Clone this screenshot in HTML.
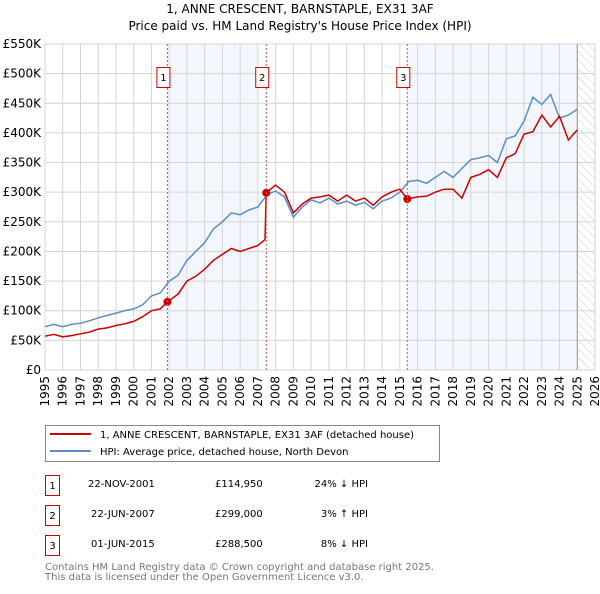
<!DOCTYPE html>
<html><head><meta charset="utf-8"><style>
body{margin:0;background:#fff;font-family:"DejaVu Sans","Liberation Sans",sans-serif;}
svg text{font-family:"DejaVu Sans","Liberation Sans",sans-serif;}
</style></head><body>
<svg id="chart" width="600" height="590" viewBox="0 0 600 590" xmlns="http://www.w3.org/2000/svg">
<defs><pattern id="hatch" width="6" height="6" patternUnits="userSpaceOnUse" patternTransform="rotate(-45)"><line x1="0" y1="0" x2="0" y2="6" stroke="#ccc" stroke-width="1"/></pattern></defs>
<text x="300" y="13" text-anchor="middle" font-size="12">1, ANNE CRESCENT, BARNSTAPLE, EX31 3AF</text>
<text x="300" y="30" text-anchor="middle" font-size="12">Price paid vs. HM Land Registry's House Price Index (HPI)</text>
<g id="bands"></g><g id="grid"></g><g id="axes"></g><g id="series"></g><g id="markers"></g>
<g>
<rect x="45.5" y="425.5" width="394" height="36" fill="#fff" stroke="#888"/>
<line x1="50" y1="434" x2="91" y2="434" stroke="#cc0000" stroke-width="2"/>
<text x="100" y="438" font-size="10">1, ANNE CRESCENT, BARNSTAPLE, EX31 3AF (detached house)</text>
<line x1="50" y1="451" x2="91" y2="451" stroke="#5b8ccc" stroke-width="2"/>
<text x="100" y="455" font-size="10">HPI: Average price, detached house, North Devon</text>
</g>
<g font-size="10">
<rect x="45.5" y="475.5" width="14" height="20" fill="#fff" stroke="#c00"/><text x="52.5" y="489" text-anchor="middle">1</text>
<text x="88" y="487">22-NOV-2001</text><text x="215" y="487">£114,950</text><text x="368" y="487" text-anchor="end">24% ↓ HPI</text>
<rect x="45.5" y="505.5" width="14" height="20" fill="#fff" stroke="#c00"/><text x="52.5" y="519" text-anchor="middle">2</text>
<text x="91" y="517">22-JUN-2007</text><text x="215" y="517">£299,000</text><text x="368" y="517" text-anchor="end">3% ↑ HPI</text>
<rect x="45.5" y="535.5" width="14" height="20" fill="#fff" stroke="#c00"/><text x="52.5" y="549" text-anchor="middle">3</text>
<text x="91" y="547">01-JUN-2015</text><text x="215" y="547">£288,500</text><text x="368" y="547" text-anchor="end">8% ↓ HPI</text>
</g>
<text x="45" y="570" font-size="10" fill="#777">Contains HM Land Registry data © Crown copyright and database right 2025.</text>
<text x="45" y="580" font-size="10" fill="#777">This data is licensed under the Open Government Licence v3.0.</text>
</svg>
<script>
const yTicks=[0,50,100,150,200,250,300,350,400,450,500,550];
const yTickLabels=["£0","£50K","£100K","£150K","£200K","£250K","£300K","£350K","£400K","£450K","£500K","£550K"];
const xTickYears=[1995,1996,1997,1998,1999,2000,2001,2002,2003,2004,2005,2006,2007,2008,2009,2010,2011,2012,2013,2014,2015,2016,2017,2018,2019,2020,2021,2022,2023,2024,2025,2026];
const hpiYears=[1995,1995.5,1996,1996.5,1997,1997.5,1998,1998.5,1999,1999.5,2000,2000.5,2001,2001.5,2002,2002.5,2003,2003.5,2004,2004.5,2005,2005.5,2006,2006.5,2007,2007.5,2008,2008.5,2009,2009.5,2010,2010.5,2011,2011.5,2012,2012.5,2013,2013.5,2014,2014.5,2015,2015.5,2016,2016.5,2017,2017.5,2018,2018.5,2019,2019.5,2020,2020.5,2021,2021.5,2022,2022.5,2023,2023.5,2024,2024.5,2025];
const hpiValues=[73,77,73,77,79,83,88,92,96,100,103,110,125,130,150,160,185,200,215,238,250,265,262,270,275,295,302,292,258,275,287,282,290,280,285,278,283,272,285,290,300,318,320,315,325,335,325,340,355,358,362,350,390,395,420,460,448,465,425,430,440];
const priceYears=[1995,1995.5,1996,1996.5,1997,1997.5,1998,1998.5,1999,1999.5,2000,2000.5,2001,2001.5,2001.9,2002.5,2003,2003.5,2004,2004.5,2005,2005.5,2006,2006.5,2007,2007.4,2007.47,2008,2008.5,2009,2009.5,2010,2010.5,2011,2011.5,2012,2012.5,2013,2013.5,2014,2014.5,2015,2015.42,2016,2016.5,2017,2017.5,2018,2018.5,2019,2019.5,2020,2020.5,2021,2021.5,2022,2022.5,2023,2023.5,2024,2024.5,2025];
const priceValues=[57,60,56,58,61,64,69,71,75,78,82,90,100,103,115,128,150,158,170,185,195,205,200,205,210,220,299,312,300,265,280,290,292,295,285,295,285,290,278,292,300,305,288.5,292,293,300,305,305,290,325,330,338,325,358,365,398,402,430,410,428,388,405];
const saleYears=[2001.9,2007.47,2015.42];
const saleValues=[114.95,299,288.5];
const saleLabels=["1","2","3"];

const NS="http://www.w3.org/2000/svg";
const X0=45,X1=595,Y0=370,Y1=44;
const xs=y=>X0+(y-1995)/(2026-1995)*(X1-X0);
const ys=v=>Y0-v/550*(Y0-Y1);
function mk(tag,attrs,parent){const e=document.createElementNS(NS,tag);for(const k in attrs)e.setAttribute(k,attrs[k]);document.getElementById(parent).appendChild(e);return e;}

let b=mk('rect',{x:xs(2001.95),y:Y1,width:xs(2007.0)-xs(2001.95),height:Y0-Y1,fill:'#eef3fc',opacity:0.7},'bands');


b=mk('rect',{x:xs(2015.42),y:Y1,width:xs(2025)-xs(2015.42),height:Y0-Y1,fill:'#eef3fc',opacity:0.7},'bands');


b=mk('rect',{x:xs(2025),y:Y1,width:X1-xs(2025),height:Y0-Y1,fill:'url(#hatch)'},'bands');



yTicks.forEach((v,i)=>{
 const l=mk('line',{x1:X0,x2:X1,y1:ys(v),y2:ys(v),stroke:'#d4d4d4','stroke-width':1},'grid');
 
 
 const t=mk('text',{x:X0-4,y:ys(v)+4,'text-anchor':'end','font-size':12},'axes');
 t.textContent=yTickLabels[i];
 
 
});
xTickYears.forEach(yr=>{
 const l=mk('line',{x1:xs(yr),x2:xs(yr),y1:Y1,y2:Y0,stroke:'#d4d4d4','stroke-width':1},'grid');
 
 
 const t=mk('text',{x:0,y:0,'text-anchor':'end','font-size':12,transform:`translate(${xs(yr)+4},${Y0+6}) rotate(-90)`},'axes');
 t.textContent=String(yr);
 
 
});
let ln=mk('line',{x1:xs(2025),x2:xs(2025),y1:Y1,y2:Y0,stroke:'#999','stroke-width':1},'grid');



saleYears.forEach((yr,i)=>{
 const l=mk('line',{x1:xs(yr),x2:xs(yr),y1:Y1,y2:Y0,stroke:'#e05050','stroke-width':1,'stroke-dasharray':'2,2'},'markers');
 
 
 const r=mk('rect',{x:xs(yr)-10.5,y:67.5,width:13,height:20,fill:'#fff',stroke:'#c00'},'markers');
 
 
 const t=mk('text',{x:xs(yr)-4,y:81,'text-anchor':'middle','font-size':10},'markers');
 t.textContent=saleLabels[i];
 
 
});

const pts=(xa,va)=>xa.map((y,i)=>xs(y).toFixed(1)+','+ys(va[i]).toFixed(1)).join(' ');
let p=mk('polyline',{points:pts(hpiYears,hpiValues),fill:'none',stroke:'#5b8ccc','stroke-width':1.5},'series');


p=mk('polyline',{points:pts(priceYears,priceValues),fill:'none',stroke:'#cc0000','stroke-width':1.5},'series');


saleYears.forEach((yr,i)=>{
 const c=mk('circle',{cx:xs(yr),cy:ys(saleValues[i]),r:4,fill:'#cc0000'},'series');
 
 
});
</script>
</body></html>
